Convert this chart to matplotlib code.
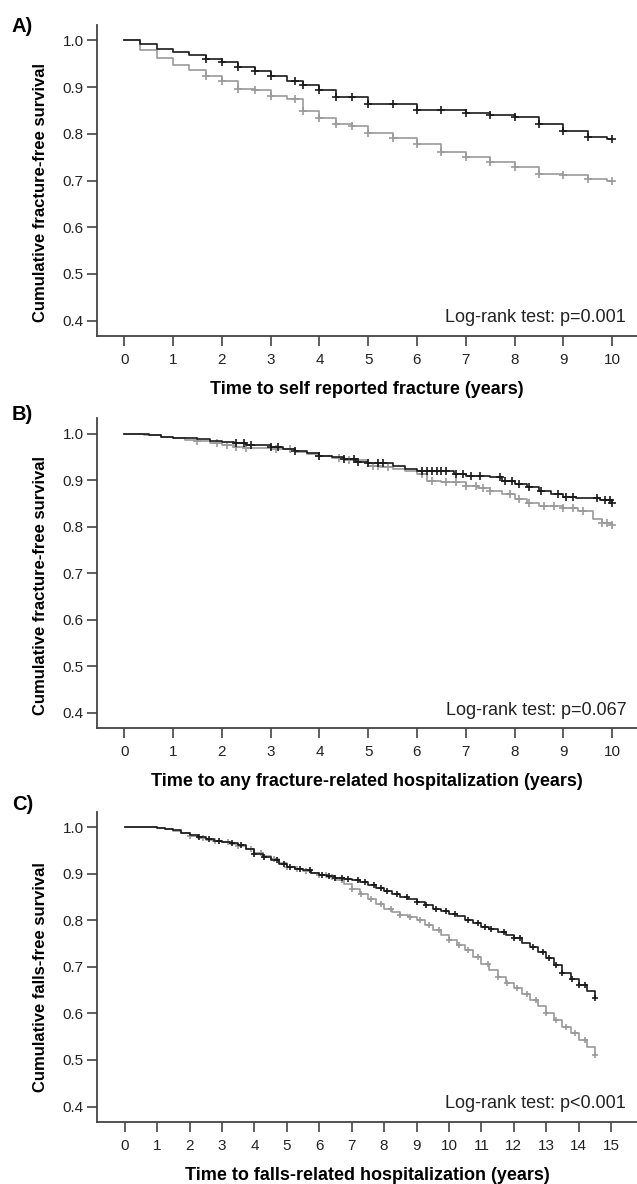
import matplotlib
matplotlib.use("Agg")
import matplotlib.pyplot as plt
import numpy as np

plt.rcParams['font.family'] = ['Liberation Sans', 'DejaVu Sans']

# Panel A: self reported fracture (step times in years, survival after the step)
a_dark_t = [0, 0.33, 0.67, 1.0, 1.33, 1.67, 2.0, 2.33, 2.67, 3.0, 3.33, 3.67, 4.0, 4.33,
            5.0, 6.0, 7.0, 7.5, 8.0, 8.5, 9.0, 9.5, 9.9, 10.0]
a_dark_s = [1.0, 0.993, 0.981, 0.975, 0.968, 0.961, 0.953, 0.942, 0.935, 0.924, 0.914, 0.904,
            0.893, 0.879, 0.864, 0.851, 0.845, 0.841, 0.835, 0.821, 0.806, 0.794, 0.789, 0.789]
a_dark_c = [1.67, 2.0, 2.33, 2.67, 3.0, 3.5, 3.67, 4.0, 4.33, 4.67, 5.0, 5.5, 6.0, 6.5,
            7.0, 7.5, 8.0, 8.5, 9.0, 9.5, 10.0]
a_light_t = [0, 0.33, 0.67, 1.0, 1.33, 1.67, 2.0, 2.33, 2.67, 3.0, 3.33, 3.67, 4.0, 4.33,
             4.67, 5.0, 5.5, 6.0, 6.5, 7.0, 7.5, 8.0, 8.5, 9.0, 9.5, 9.9, 10.0]
a_light_s = [1.0, 0.979, 0.962, 0.948, 0.937, 0.923, 0.912, 0.896, 0.893, 0.880, 0.874, 0.849,
             0.834, 0.821, 0.817, 0.801, 0.791, 0.778, 0.761, 0.751, 0.739, 0.729, 0.714,
             0.712, 0.704, 0.698, 0.698]
a_light_c = [1.67, 2.0, 2.33, 2.67, 3.0, 3.5, 3.67, 4.0, 4.33, 4.67, 5.0, 5.5, 6.0, 6.5,
             7.0, 7.5, 8.0, 8.5, 9.0, 9.5, 10.0]

# Panel B: fracture-related hospitalization
b_dark_t = [0, 0.5, 0.75, 1.0, 1.5, 1.75, 2.0, 2.25, 2.5, 3.0, 3.25, 3.5, 3.75, 4.0, 4.25,
            4.5, 4.75, 5.0, 5.5, 5.75, 6.0, 6.5, 6.75, 7.0, 7.5, 7.75, 8.0, 8.25, 8.5,
            8.75, 9.0, 9.25, 9.5, 9.75, 10.0]
b_dark_s = [1.0, 0.997, 0.993, 0.991, 0.989, 0.985, 0.983, 0.979, 0.976, 0.972, 0.968,
            0.963, 0.958, 0.952, 0.949, 0.945, 0.940, 0.938, 0.931, 0.925, 0.919, 0.919,
            0.913, 0.909, 0.907, 0.898, 0.891, 0.886, 0.877, 0.870, 0.863, 0.861, 0.861,
            0.858, 0.852]
b_dark_c = [2.3, 2.45, 2.6, 3.0, 3.15, 3.5, 4.0, 4.5, 4.7, 4.8, 5.0, 5.2, 5.3, 6.1, 6.2,
            6.3, 6.4, 6.5, 6.6, 6.8, 6.95, 7.1, 7.3, 7.7, 7.8, 7.95, 8.1, 8.3, 8.55, 8.9,
            9.05, 9.2, 9.7, 9.85, 9.95, 10.0]
b_light_t = [0, 0.4, 0.75, 1.0, 1.25, 1.5, 1.75, 2.0, 2.25, 2.5, 3.0, 3.5, 3.75, 4.0,
             4.25, 4.5, 5.0, 5.25, 5.5, 5.75, 6.0, 6.2, 6.5, 7.0, 7.25, 7.5, 7.75, 8.0,
             8.25, 8.5, 9.0, 9.3, 9.6, 9.8, 10.0]
b_light_s = [1.0, 0.997, 0.993, 0.990, 0.987, 0.984, 0.979, 0.975, 0.972, 0.970, 0.966,
             0.961, 0.956, 0.951, 0.947, 0.944, 0.931, 0.928, 0.924, 0.919, 0.913, 0.899,
             0.897, 0.888, 0.883, 0.877, 0.870, 0.859, 0.851, 0.845, 0.841, 0.834, 0.816,
             0.808, 0.804]
b_light_c = [1.5, 1.9, 2.1, 2.3, 2.5, 3.1, 3.4, 4.0, 4.4, 4.6, 5.1, 5.2, 5.4, 6.1, 6.3,
             6.6, 6.8, 7.0, 7.2, 7.35, 7.5, 7.9, 8.1, 8.3, 8.6, 8.8, 9.0, 9.2, 9.4, 9.8,
             9.9, 10.0]

# Panel C: falls-related hospitalization
c_dark_t = [0, 0.75, 1.0, 1.25, 1.5, 1.75, 2.0, 2.25, 2.5, 2.75, 3.0, 3.25, 3.5, 3.75,
            4.0, 4.25, 4.5, 4.75, 5.0, 5.25, 5.5, 5.75, 6.0, 6.25, 6.5, 6.75, 7.0, 7.25,
            7.5, 7.75, 8.0, 8.25, 8.5, 8.75, 9.0, 9.25, 9.5, 9.75, 10.0, 10.25, 10.5,
            10.75, 11.0, 11.25, 11.5, 11.75, 12.0, 12.25, 12.5, 12.75, 13.0, 13.25, 13.5,
            13.75, 14.0, 14.25, 14.5]
c_dark_s = [1.0, 0.999, 0.998, 0.996, 0.993, 0.988, 0.982, 0.978, 0.975, 0.971, 0.968,
            0.965, 0.961, 0.953, 0.943, 0.936, 0.929, 0.921, 0.914, 0.910, 0.907, 0.902,
            0.898, 0.894, 0.891, 0.889, 0.886, 0.881, 0.875, 0.869, 0.863, 0.857, 0.850,
            0.845, 0.839, 0.832, 0.825, 0.820, 0.814, 0.808, 0.801, 0.793, 0.786, 0.781,
            0.775, 0.768, 0.761, 0.752, 0.743, 0.731, 0.718, 0.703, 0.686, 0.673, 0.661,
            0.647, 0.632]
c_light_t = c_dark_t
c_light_s = [1.0, 0.999, 0.998, 0.996, 0.992, 0.987, 0.981, 0.977, 0.973, 0.970, 0.967,
             0.963, 0.959, 0.952, 0.945, 0.938, 0.931, 0.922, 0.914, 0.910, 0.906, 0.901,
             0.897, 0.892, 0.886, 0.877, 0.868, 0.857, 0.846, 0.835, 0.825, 0.817, 0.811,
             0.806, 0.800, 0.790, 0.779, 0.768, 0.757, 0.746, 0.736, 0.722, 0.707, 0.693,
             0.679, 0.666, 0.654, 0.642, 0.629, 0.615, 0.600, 0.586, 0.571, 0.557, 0.543,
             0.527, 0.511]
c_dark_c = [2.3, 2.6, 2.9, 3.3, 3.6, 4.0, 4.3, 4.7, 4.9, 5.1, 5.4, 5.7, 6.1, 6.3, 6.5,
            6.7, 6.9, 7.2, 7.4, 7.7, 7.9, 8.1, 8.4, 8.7, 9.0, 9.3, 9.6, 9.9, 10.2, 10.6,
            10.9, 11.1, 11.3, 11.7, 12.0, 12.2, 12.6, 12.9, 13.1, 13.3, 13.5, 13.8, 14.0,
            14.2, 14.5]
c_light_c = [2.0, 2.4, 2.8, 3.2, 3.5, 3.9, 4.2, 4.6, 5.0, 5.3, 5.6, 6.0, 6.2, 6.4, 6.7,
             7.0, 7.3, 7.6, 7.9, 8.2, 8.5, 8.8, 9.1, 9.4, 9.7, 10.0, 10.3, 10.6, 10.9,
             11.2, 11.5, 11.8, 12.1, 12.4, 12.7, 13.0, 13.3, 13.6, 13.9, 14.2, 14.5]

panels = [
    ("A)", (a_dark_t, a_dark_s, a_dark_c), (a_light_t, a_light_s, a_light_c),
     10, "Time to self reported fracture (years)", "Cumulative fracture-free survival",
     "Log-rank test: p=0.001", 0.463),
    ("B)", (b_dark_t, b_dark_s, b_dark_c), (b_light_t, b_light_s, b_light_c),
     10, "Time to any fracture-related hospitalization (years)",
     "Cumulative fracture-free survival", "Log-rank test: p=0.067", 0.461),
    ("C)", (c_dark_t, c_dark_s, c_dark_c), (c_light_t, c_light_s, c_light_c),
     15, "Time to falls-related hospitalization (years)", "Cumulative falls-free survival",
     "Log-rank test: p<0.001", 0.468),
]

# axes boxes in figure fraction [left, bottom, width, height]
boxes = [[0.153, 0.7162, 0.847, 0.2627],
         [0.153, 0.3849, 0.847, 0.2618],
         [0.153, 0.0524, 0.847, 0.2621]]
letter_y = [1 - 17 / 1184, 1 - 405 / 1184, 1 - 795 / 1184]
marker_size = [6, 5.5, 5]

DARK = "#1a1a1a"
LIGHT = "#9a9a9a"
AXC = "#444444"

fig = plt.figure(figsize=(6.37, 11.84), dpi=100)

for i, (letter, dark, light, xmax, xlab, ylab, note, ylab_y) in enumerate(panels):
    ax = fig.add_axes(boxes[i])
    for (t, s, c), col in ((light, LIGHT), (dark, DARK)):
        t = np.array(t)
        s = np.array(s)
        ax.step(t, s, where="post", color=col, lw=1.2)
        c = np.array(c)
        cy = s[np.searchsorted(t, c, side="right") - 1]
        ax.plot(c, cy, linestyle="none", marker="+", color=col,
                ms=marker_size[i], mew=1.2)

    if xmax == 10:
        ax.set_xlim(-0.55, 10.51)
    else:
        ax.set_xlim(-0.84, 15.8)
    ax.set_ylim(0.367, 1.033)
    ax.set_xticks(range(0, xmax + 1))
    ax.set_yticks([0.4, 0.5, 0.6, 0.7, 0.8, 0.9, 1.0])
    ax.set_yticklabels(["0.4", "0.5", "0.6", "0.7", "0.8", "0.9", "1.0"])

    for side in ("top", "right"):
        ax.spines[side].set_visible(False)
    for side in ("left", "bottom"):
        ax.spines[side].set_color(AXC)
        ax.spines[side].set_linewidth(1.3)
    ax.tick_params(axis="both", direction="out", length=7, width=1.2, color=AXC,
                   labelsize=11, labelcolor="#222222")
    ax.tick_params(axis="x", pad=5)
    ax.tick_params(axis="y", pad=3)

    ax.set_xlabel(xlab, fontsize=13, fontweight="bold", labelpad=10)
    ax.set_ylabel(ylab, fontsize=12, fontweight="bold")
    ax.yaxis.set_label_coords(-0.092, ylab_y)

    ax.text(0.98, 0.058, note, transform=ax.transAxes, ha="right", va="center",
            fontsize=13, color="#222222")

    fig.text(12 / 637, letter_y[i], letter, fontsize=14.5, fontweight="bold", va="top")

fig.savefig("out.png", dpi=100)
